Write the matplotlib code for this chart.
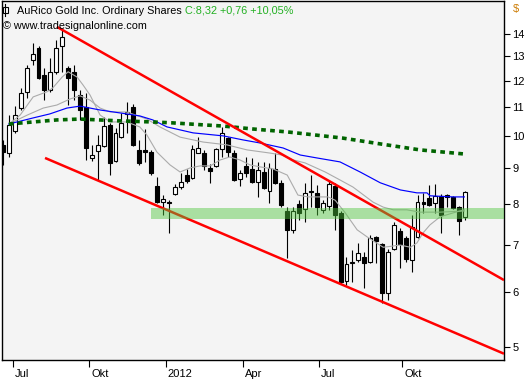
import numpy as np
import matplotlib
matplotlib.use('Agg')
import matplotlib.pyplot as plt
import matplotlib.transforms as mtransforms
from matplotlib.patches import Rectangle
from matplotlib.lines import Line2D
from matplotlib.ticker import NullLocator, FixedLocator

# ---------------- data (weekly candles, AuRico Gold) ----------------
opens = [9.72, 9.46, 10.17, 10.98, 11.57, 12.85, 13.37, 12.23, 11.65, 12.36,
         13.46, 12.52, 12.36, 11.45, 11.01, 9.31, 9.53, 9.69, 10.38, 9.22,
         9.97, 10.76, 11.01, 9.56, 9.56, 9.49, 8.49, 8.05, 8.05, 8.27,
         8.46, 8.80, 8.72, 9.46, 9.46, 9.01, 9.07, 9.59, 9.94, 9.46,
         8.69, 9.07, 8.98, 8.60, 8.89, 8.35, 8.98, 8.57, 7.82, 7.35,
         8.00, 7.87, 8.35, 8.30, 7.85, 7.95, 8.49, 7.77, 6.22, 6.59,
         6.66, 6.72, 6.61, 7.18, 7.02, 5.97, 6.90, 7.32, 7.15, 6.66,
         7.18, 8.05, 8.16, 8.02, 8.21, 8.24, 8.19, 7.92, 7.67]
highs = [9.88, 10.72, 11.04, 11.72, 12.64, 13.59, 13.46, 12.52, 12.93, 13.73,
         14.19, 12.60, 12.64, 11.65, 11.53, 9.72, 10.04, 10.65, 10.45, 10.27,
         10.79, 11.19, 11.12, 9.88, 10.24, 9.56, 8.75, 8.24, 8.10, 8.55,
         8.86, 8.98, 9.72, 9.97, 9.56, 9.13, 9.62, 10.31, 9.97, 9.56,
         8.95, 9.34, 9.31, 9.19, 9.19, 9.16, 9.46, 8.66, 7.92, 7.92,
         8.10, 8.57, 8.80, 8.52, 8.10, 8.66, 8.57, 7.82, 6.72, 6.88,
         7.04, 6.83, 7.22, 7.20, 7.04, 6.90, 7.54, 7.39, 7.20, 7.72,
         8.24, 8.30, 8.52, 8.55, 8.27, 8.27, 8.21, 7.95, 8.35]
lows = [9.10, 9.34, 10.10, 10.90, 11.34, 12.64, 12.07, 11.26, 11.57, 12.27,
        12.36, 11.08, 11.26, 10.55, 9.25, 9.22, 8.66, 9.65, 8.80, 9.19,
        9.94, 10.10, 9.69, 9.10, 9.19, 8.80, 8.02, 7.72, 7.27, 8.24,
        8.41, 8.57, 8.69, 9.46, 8.95, 8.57, 9.04, 9.34, 9.34, 8.63,
        8.49, 8.75, 8.57, 8.19, 8.41, 8.02, 8.55, 7.92, 6.70, 7.27,
        7.59, 7.54, 7.92, 7.72, 7.77, 7.85, 7.35, 6.15, 6.13, 6.19,
        6.61, 6.07, 6.59, 6.59, 5.78, 5.83, 6.88, 6.48, 6.61, 6.40,
        7.15, 7.77, 7.95, 7.77, 7.27, 7.92, 7.87, 7.22, 7.59]
closes = [9.49, 10.38, 10.72, 11.53, 12.52, 13.11, 12.11, 11.65, 12.36, 13.37,
          13.86, 12.11, 11.65, 10.90, 9.62, 9.40, 9.72, 10.34, 9.16, 10.10,
          10.45, 10.83, 9.72, 9.16, 9.49, 8.86, 8.05, 8.13, 8.02, 8.46,
          8.60, 8.63, 9.59, 9.62, 9.07, 8.92, 9.59, 10.10, 9.49, 8.66,
          8.86, 8.86, 8.60, 8.95, 8.44, 9.01, 8.57, 7.98, 7.35, 7.82,
          7.77, 8.30, 8.33, 7.92, 8.02, 8.55, 7.72, 6.19, 6.57, 6.61,
          6.81, 6.59, 7.15, 7.09, 5.97, 6.83, 7.47, 7.02, 6.68, 7.42,
          8.05, 8.00, 7.98, 8.21, 7.72, 8.19, 7.90, 7.56, 8.32]

# indicator lines (bar index, price)
blue_x = [1.0, 5.1, 7.9, 10.8, 13.0, 16.4, 20.9, 23.1, 25.3, 27.7, 29.9, 32.1, 37.2,
          40.5, 43.4, 47.3, 50.2, 53.0, 56.9, 60.3, 63.7, 67.1, 69.9, 71.6, 72.1, 76.0, 77.9]
blue_y = [10.41, 10.62, 10.76, 10.97, 11.04, 10.90, 10.76, 10.69, 10.55, 10.31, 10.21, 10.11, 10.01,
          9.88, 9.78, 9.62, 9.40, 9.31, 9.19, 8.89, 8.58, 8.38, 8.30, 8.30, 8.22, 8.19, 8.19]

green_x = [1.0, 5.1, 9.1, 13.0, 19.4, 25.2, 28.5, 33.8, 37.2, 42.2, 48.1, 52.7, 57.3, 63.7, 70.4, 78.0]
green_y = [10.41, 10.48, 10.55, 10.58, 10.52, 10.48, 10.45, 10.38, 10.34, 10.24, 10.14, 10.04, 9.94,
           9.75, 9.56, 9.43]

gfast_x = [1.0, 2.9, 5.1, 7.4, 8.4, 10.0, 11.0, 12.5, 13.5, 14.7, 16.4, 18.1, 20.9, 23.1, 24.3, 26.0,
           28.2, 29.9, 31.6, 33.3, 35.0, 36.7, 38.3, 40.0, 41.7, 43.4, 45.6, 48.0, 49.8, 51.5, 54.9,
           56.1, 57.8, 59.8, 61.5, 64.2, 67.1, 68.8, 69.9, 70.9, 72.1, 73.8, 76.0, 77.9]
gfast_y = [10.41, 10.72, 11.38, 11.57, 11.72, 12.15, 12.36, 12.15, 11.84, 11.45, 10.72, 10.48, 10.48,
           10.31, 10.04, 9.49, 9.10, 8.89, 9.01, 9.07, 9.07, 9.25, 9.34, 9.25, 9.10, 9.04, 8.98, 8.80,
           8.24, 8.19, 8.19, 8.10, 7.77, 7.35, 7.18, 6.94, 6.99, 6.94, 7.04, 7.27, 7.47, 7.67, 7.77, 7.85]

gslow_x = [1.0, 4.1, 6.8, 9.1, 11.3, 13.0, 14.7, 16.4, 18.1, 20.9, 24.3, 26.5, 29.9, 33.8, 37.8,
           41.2, 45.1, 47.1, 49.0, 51.0, 54.4, 56.9, 59.1, 62.5, 64.2, 65.9, 68.2, 70.4, 73.8, 77.9]
gslow_y = [10.41, 10.72, 10.97, 11.08, 11.30, 11.42, 11.26, 10.97, 10.83, 10.83, 10.58, 10.31, 9.97,
           9.81, 9.72, 9.56, 9.46, 9.40, 9.25, 9.16, 8.89, 8.66, 8.46, 8.05, 7.92, 7.85, 7.85, 7.79,
           7.79, 7.82]

# trend channel (start / end points) and support zone
upper_x = [9.1, 84.6]
upper_y = [14.33, 6.23]
lower_x = [7.1, 84.6]
lower_y = [9.31, 4.89]
zone_start = 25.0
zone_low, zone_high = 7.62, 7.90

xtick_pos = [1.7, 14.6, 27.5, 40.5, 53.4, 67.4]
xtick_labels = ['Jul', 'Okt', '2012', 'Apr', 'Jul', 'Okt']
ytick_vals = [5, 6, 7, 8, 9, 10, 11, 12, 13, 14]

# ---------------- figure ----------------
W, H = 532, 380
FONT = 'Liberation Sans'
FS = 8.0
HFS = 7.8
fig = plt.figure(figsize=(W / 100, H / 100), dpi=100)
fig.patch.set_facecolor('white')
ax = fig.add_axes([1.5 / W, 1 - 360 / H, (504 - 1.5) / W, (360 - 1) / H])
ax.set_facecolor('#F4F4F4')
ax.set_yscale('log')
XMAX = 84.6
ax.set_xlim(-0.25, XMAX)
ax.set_ylim(4.79, 15.6)

o = np.array(opens); h = np.array(highs); l = np.array(lows); c = np.array(closes)
x = np.arange(len(o))
up = c >= o
ax.vlines(x, l, h, color='black', lw=0.8, zorder=2)
bb = np.minimum(o, c)
bh = np.abs(c - o)
ax.bar(x[up], bh[up], bottom=bb[up], width=0.66, color='white', edgecolor='black',
       linewidth=0.8, zorder=3)
ax.bar(x[~up], bh[~up], bottom=bb[~up], width=0.66, color='black', edgecolor='black',
       linewidth=0.8, zorder=3)

ax.plot(gslow_x, gslow_y, color='#ABABAB', lw=0.8, zorder=4)
ax.plot(gfast_x, gfast_y, color='#ABABAB', lw=0.8, zorder=4)
ax.plot(blue_x, blue_y, color='#0000FF', lw=0.85, zorder=4)
ax.plot(green_x, green_y, color='#006400', lw=2.6, dashes=(1.3, 1.2),
        dash_capstyle='butt', zorder=4)

ax.plot(upper_x, upper_y, color='#FF0000', lw=1.8, zorder=5, solid_capstyle='butt')
ax.plot(lower_x, lower_y, color='#FF0000', lw=1.8, zorder=5, solid_capstyle='butt')

ax.fill_between([zone_start, XMAX], zone_low, zone_high, color=(0.31, 0.78, 0.24),
                alpha=0.45, lw=0, zorder=6)

# axes styling
for s in ax.spines.values():
    s.set_color('black')
    s.set_linewidth(1.0)
ax.yaxis.tick_right()
ax.yaxis.set_major_locator(FixedLocator(ytick_vals))
ax.yaxis.set_minor_locator(NullLocator())
ax.set_yticklabels([str(v) for v in ytick_vals])
ax.tick_params(axis='y', which='both', direction='out', length=4, width=0.8, pad=2,
               labelsize=FS, colors='black')
ax.set_xticks(xtick_pos)
ax.set_xticklabels(xtick_labels)
ax.tick_params(axis='x', direction='out', length=5, width=0.8, pad=1.5, labelsize=FS)
offset = mtransforms.ScaledTranslation(2 / 100, 0, fig.dpi_scale_trans)
for lab in ax.get_xticklabels() + ax.get_yticklabels():
    lab.set_fontfamily(FONT)
for lab in ax.get_xticklabels():
    lab.set_horizontalalignment('left')
    lab.set_transform(lab.get_transform() + offset)

# header
fx = lambda px: px / W
fy = lambda py: 1 - py / H
fig.add_artist(Line2D([fx(5), fx(5)], [fy(4), fy(16)], color='black', lw=0.8,
                      transform=fig.transFigure))
fig.add_artist(Rectangle((fx(2.5), fy(13)), 5 / W, 6 / H, facecolor='white',
                         edgecolor='black', lw=0.8, transform=fig.transFigure))
t1 = fig.text(fx(17), fy(10.5), 'AuRico Gold Inc. Ordinary Shares', ha='left', va='center',
              fontsize=HFS, family=FONT, color='black')
chg = closes[-1] - closes[-2]
pct = chg / closes[-2] * 100
info = 'C:{:.2f} {:+.2f} {:+.2f}%'.format(closes[-1], chg, pct).replace('.', ',')
ax.annotate(info, xy=(1, 0.5), xycoords=t1, xytext=(2.5, 0), textcoords='offset points',
            ha='left', va='center', fontsize=HFS, family=FONT, color='#22B022')
fig.text(fx(3), fy(26), '\u00a9 www.tradesignalonline.com', ha='left', va='center',
         fontsize=HFS, family=FONT, color='black')
fig.text(fx(513), fy(9), '$', ha='left', va='center', fontsize=FS, family=FONT,
         color='#CC7A00')

fig.savefig('out.png', dpi=100, facecolor='white')
